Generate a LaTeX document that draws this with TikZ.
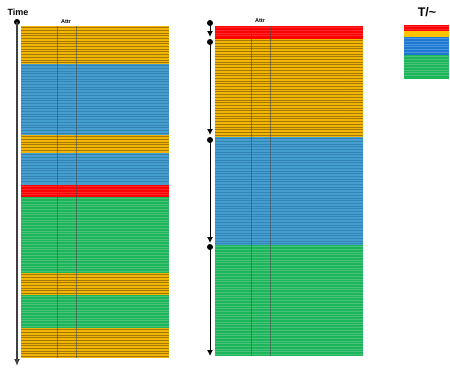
\documentclass[tikz,border=0pt]{standalone}
\usepackage{fontspec}
\setmainfont{Liberation Sans}
\usetikzlibrary{arrows.meta}
\definecolor{bdorange}{RGB}{242,182,0}
\definecolor{bdorangeln}{RGB}{165,120,15}
\definecolor{bdblue}{RGB}{70,158,206}
\definecolor{bdblueln}{RGB}{50,132,185}
\definecolor{bdgreen}{RGB}{28,182,90}
\definecolor{bdgreenln}{RGB}{75,192,122}
\definecolor{bdred}{RGB}{255,0,0}
\definecolor{bdredln}{RGB}{255,40,40}
\definecolor{lgblue}{RGB}{30,120,210}
\definecolor{lgblueln}{RGB}{75,148,222}
\definecolor{lgorange}{RGB}{255,195,0}
% striped band: x1 y1 x2 y2 fill stripe
\newcommand\band[6]{%
  \fill[#5] (#1,#2) rectangle (#3,#4);
  \pgfmathsetmacro\ya{#2+1.5}\pgfmathsetmacro\yb{#2+4.2}\pgfmathsetmacro\yc{#4-1}
  \foreach \yy in {\ya,\yb,...,\yc}{\draw[#6,line width=.7pt] (#1,\yy) -- (#3,\yy);}
}
\tikzset{
  tick/.style={fill,circle,inner sep=0pt,minimum size=6pt},
  attrline/.style={black!70,opacity=.6,line width=.7pt},
  attrlbl/.style={font=\bfseries\fontsize{5.5}{6}\selectfont,inner sep=0pt},
}
\begin{document}
\begin{tikzpicture}[x=1pt,y=-1pt]
  \useasboundingbox (0,0) rectangle (450,368);
  % left table
  \band{21}{26}{169}{64}{bdorange}{bdorangeln}
  \band{21}{64}{169}{135}{bdblue}{bdblueln}
  \band{21}{135}{169}{153}{bdorange}{bdorangeln}
  \band{21}{153}{169}{185}{bdblue}{bdblueln}
  \band{21}{185}{169}{197}{bdred}{bdredln}
  \band{21}{197}{169}{273}{bdgreen}{bdgreenln}
  \band{21}{273}{169}{295}{bdorange}{bdorangeln}
  \band{21}{295}{169}{328}{bdgreen}{bdgreenln}
  \band{21}{328}{169}{358}{bdorange}{bdorangeln}
  \draw[attrline] (57,26) -- (57,358);
  \draw[attrline] (76,26) -- (76,358);
  \node[attrlbl] (attrL) at (66,22) {Attr};
  \node[font=\bfseries\fontsize{9}{10}\selectfont] (time) at (18,12) {Time};
  \node[tick,black] (t0) at (17,22) {};
  \coordinate (tend) at (17,366);
  \draw[black!75,line width=1.5pt,-{Latex[length=7pt,width=6pt]}] (t0.center) -- (tend);

  % right table
  \band{215}{26}{363}{39}{bdred}{bdredln}
  \band{215}{39}{363}{137}{bdorange}{bdorangeln}
  \band{215}{137}{363}{245}{bdblue}{bdblueln}
  \band{215}{245}{363}{356}{bdgreen}{bdgreenln}
  \draw[attrline] (251,26) -- (251,356);
  \draw[attrline] (270,26) -- (270,356);
  \node[attrlbl] (attrR) at (260,21) {Attr};
  \node[tick] (s1) at (210,23) {};
  \node[tick] (s2) at (210,42) {};
  \node[tick] (s3) at (210,140) {};
  \node[tick] (s4) at (210,247) {};
  \coordinate (e1) at (210,37);
  \coordinate (e2) at (210,135);
  \coordinate (e3) at (210,243);
  \coordinate (e4) at (210,356);
  \foreach \s/\e in {s1/e1,s2/e2,s3/e3,s4/e4}
    \draw[line width=1pt,-{Latex[length=6pt,width=6pt]}] (\s.center) -- (\e);

  % legend
  \node[font=\bfseries\fontsize{12.5}{13}\selectfont] (lgtitle) at (427,12) {T/\char`\~};
  \band{404}{25}{449}{31}{bdred}{bdredln}
  \fill[lgorange] (404,31) rectangle (449,37);
  \band{404}{37}{449}{55}{lgblue}{lgblueln}
  \band{404}{55}{449}{79}{bdgreen}{bdgreenln}
\end{tikzpicture}
\end{document}
